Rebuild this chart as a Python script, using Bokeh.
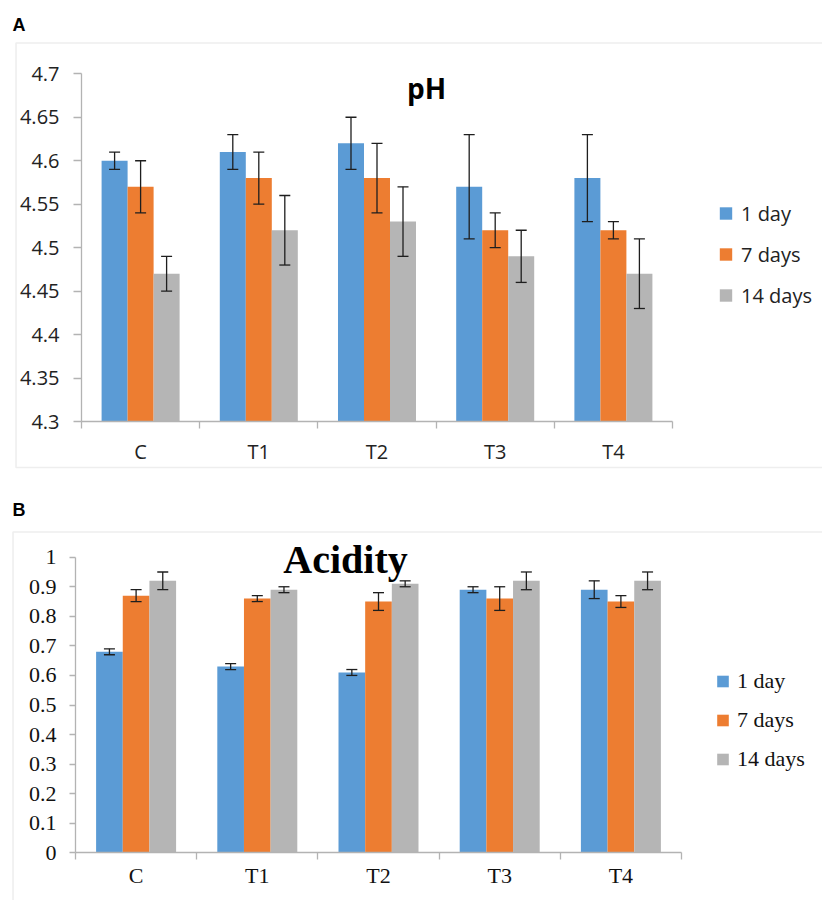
import numpy as np
from bokeh.plotting import figure
from bokeh.models import (ColumnDataSource, LinearAxis, FixedTicker, Whisker, TeeHead,
                          Label, BoxAnnotation, Legend, LegendItem, Range1d)
from bokeh.layouts import column
from bokeh.embed import file_html
from bokeh.resources import INLINE

# ---------------- data ----------------
categories = ["C", "T1", "T2", "T3", "T4"]
series = ["1 day", "7 days", "14 days"]
colors = ["#5b9bd5", "#ed7d31", "#b5b5b5"]

ph_1day = [4.60, 4.61, 4.62, 4.57, 4.58]
ph_7days = [4.57, 4.58, 4.58, 4.52, 4.52]
ph_14days = [4.47, 4.52, 4.53, 4.49, 4.47]
ph_err_1day = [0.01, 0.02, 0.03, 0.06, 0.05]
ph_err_7days = [0.03, 0.03, 0.04, 0.02, 0.01]
ph_err_14days = [0.02, 0.04, 0.04, 0.03, 0.04]
ph_ticks = [4.3, 4.35, 4.4, 4.45, 4.5, 4.55, 4.6, 4.65, 4.7]
ph_tick_labels = ["4.3", "4.35", "4.4", "4.45", "4.5", "4.55", "4.6", "4.65", "4.7"]

ac_1day = [0.68, 0.63, 0.61, 0.89, 0.89]
ac_7days = [0.87, 0.86, 0.85, 0.86, 0.85]
ac_14days = [0.92, 0.89, 0.91, 0.92, 0.92]
ac_err_1day = [0.01, 0.01, 0.01, 0.01, 0.03]
ac_err_7days = [0.02, 0.01, 0.03, 0.04, 0.02]
ac_err_14days = [0.03, 0.01, 0.01, 0.03, 0.03]
ac_ticks = [0.0, 0.1, 0.2, 0.3, 0.4, 0.5, 0.6, 0.7, 0.8, 0.9, 1.0]
ac_tick_labels = ["0", "0.1", "0.2", "0.3", "0.4", "0.5", "0.6", "0.7", "0.8", "0.9", "1"]

# ---------------- style / layout ----------------
W = 822
AXIS_COLOR = "#b3b3b3"
BORDER_COLOR = "#c6c6c6"
ERR_COLOR = "#1e1e1e"
BAR_W = 0.22


def build(values, errs, ticks, tick_labels, title, letter, g):
    H = g["H"]
    ymin, ymax = ticks[0], ticks[-1]
    ppx = (g["ax_right"] - g["ax_left"]) / len(categories)
    ppy = (g["y_lo_px"] - g["y_hi_px"]) / (ymax - ymin)

    def xd(px):
        return (px - g["ax_left"]) / ppx

    def yd(py):
        return ymin + (g["y_lo_px"] - py) / ppy

    p = figure(width=W, height=H, x_range=Range1d(xd(0), xd(W)), y_range=Range1d(yd(H), yd(0)),
               x_axis_type=None, y_axis_type=None, toolbar_location=None,
               output_backend="svg", min_border=0, outline_line_color=None,
               background_fill_color="white", border_fill_color="white")

    centers = np.arange(len(categories)) + 0.5
    offsets = [-BAR_W, 0.0, BAR_W]
    proxies = []
    for vals, err, off, col in zip(values, errs, offsets, colors):
        vals = np.array(vals)
        err = np.array(err)
        src = ColumnDataSource(dict(x=centers + off, top=vals, upper=vals + err, lower=vals - err))
        p.vbar(x="x", top="top", bottom=ymin, width=BAR_W, source=src,
               fill_color=col, line_color=None)
        p.add_layout(Whisker(source=src, base="x", upper="upper", lower="lower",
                             line_color=ERR_COLOR, line_width=1.3, level="overlay",
                             upper_head=TeeHead(size=11, line_color=ERR_COLOR, line_width=1.3),
                             lower_head=TeeHead(size=11, line_color=ERR_COLOR, line_width=1.3)))
        proxies.append(p.scatter(x=[np.nan], y=[np.nan], marker="square", size=10,
                                 fill_color=col, line_color=None))

    # y axis
    yaxis = LinearAxis(fixed_location=0, bounds=(ymin, ymax),
                       ticker=FixedTicker(ticks=ticks, minor_ticks=[]),
                       major_label_overrides={float(t): s for t, s in zip(ticks, tick_labels)},
                       axis_line_color=AXIS_COLOR, axis_line_width=1.3,
                       major_tick_line_color=AXIS_COLOR, major_tick_line_width=1.3,
                       major_tick_out=g["ytick"], major_tick_in=0,
                       minor_tick_line_color=None,
                       major_label_standoff=g["ystand"],
                       major_label_text_font=g["font"],
                       major_label_text_font_size=g["fs"],
                       major_label_text_color=g["tc"])
    p.add_layout(yaxis, "left")

    # category boundary axis
    bounds_axis = LinearAxis(fixed_location=ymin, bounds=(0, len(categories)),
                             ticker=FixedTicker(ticks=list(range(len(categories) + 1)), minor_ticks=[]),
                             axis_line_color=AXIS_COLOR, axis_line_width=1.3,
                             major_tick_line_color=AXIS_COLOR, major_tick_line_width=1.3,
                             major_tick_out=7, major_tick_in=0,
                             minor_tick_line_color=None, major_label_text_color=None)
    p.add_layout(bounds_axis, "below")

    # category label axis
    label_axis = LinearAxis(fixed_location=ymin,
                            ticker=FixedTicker(ticks=list(centers), minor_ticks=[]),
                            major_label_overrides={float(c): s for c, s in zip(centers, categories)},
                            axis_line_color=None, major_tick_line_color=None,
                            minor_tick_line_color=None,
                            major_label_standoff=g["xstand"],
                            major_label_text_font=g["font"],
                            major_label_text_font_size=g["fs"],
                            major_label_text_color=g["tc"])
    p.add_layout(label_axis, "below")

    # chart-area border
    p.add_layout(BoxAnnotation(left=xd(g["b_left"]), right=xd(W + 40),
                               top=yd(g["b_top"]), bottom=yd(g["b_bottom"]),
                               fill_color=None, fill_alpha=0,
                               line_color=BORDER_COLOR, line_width=1.6, level="underlay"))

    # titles
    p.add_layout(Label(x=xd(g["t_x"]), y=yd(g["t_y"]), text=title, text_align="center",
                       text_baseline="alphabetic", text_font=g["font"], text_font_style="bold",
                       text_font_size=g["tfs"], text_color="black"))
    p.add_layout(Label(x=xd(g["l_x"]), y=yd(g["l_y"]), text=letter, text_align="left",
                       text_baseline="alphabetic", text_font="Liberation Sans",
                       text_font_style="bold", text_font_size="18px", text_color="black"))

    # legend
    gw, gh = g["gw"], g["gh"]
    sp = g["lsp"]
    leg_h = 3 * gh + 2 * sp
    legend = Legend(items=[LegendItem(label=s, renderers=[r]) for s, r in zip(series, proxies)],
                    location=(g["lg_x"], H - g["lg_top"] - leg_h),
                    orientation="vertical", padding=0, margin=0, spacing=sp,
                    glyph_width=gw, glyph_height=gh, label_height=10,
                    label_standoff=g["lstand"],
                    label_text_font=g["font"], label_text_font_size=g["fs"],
                    label_text_color=g["tc"], border_line_color=None,
                    background_fill_alpha=0)
    p.add_layout(legend, "center")
    return p


g_top = dict(H=480, ax_left=81, ax_right=672, y_lo_px=421, y_hi_px=73.3,
             b_left=15.5, b_top=42.5, b_bottom=467,
             t_x=426, t_y=87, tfs="28px", l_x=12, l_y=24,
             font="Open Sans", fs="20px", tc="#222222",
             ytick=8, ystand=14, xstand=10,
             gw=31, gh=32, lsp=9, lg_x=710, lg_top=197, lstand=-9)

g_bot = dict(H=420, ax_left=75, ax_right=681, y_lo_px=372.3, y_hi_px=76.7,
             b_left=12.5, b_top=51.5, b_bottom=460,
             t_x=345, t_y=79, tfs="40px", l_x=12, l_y=29,
             font="Liberation Serif", fs="22px", tc="#111111",
             ytick=6, ystand=13, xstand=4,
             gw=29, gh=30, lsp=9, lg_x=708, lg_top=186, lstand=-10)

p1 = build([ph_1day, ph_7days, ph_14days], [ph_err_1day, ph_err_7days, ph_err_14days],
           ph_ticks, ph_tick_labels, "pH", "A", g_top)
p2 = build([ac_1day, ac_7days, ac_14days], [ac_err_1day, ac_err_7days, ac_err_14days],
           ac_ticks, ac_tick_labels, "Acidity", "B", g_bot)

layout = column(p1, p2, spacing=0)
open("out.html", "w").write(file_html(layout, INLINE))
